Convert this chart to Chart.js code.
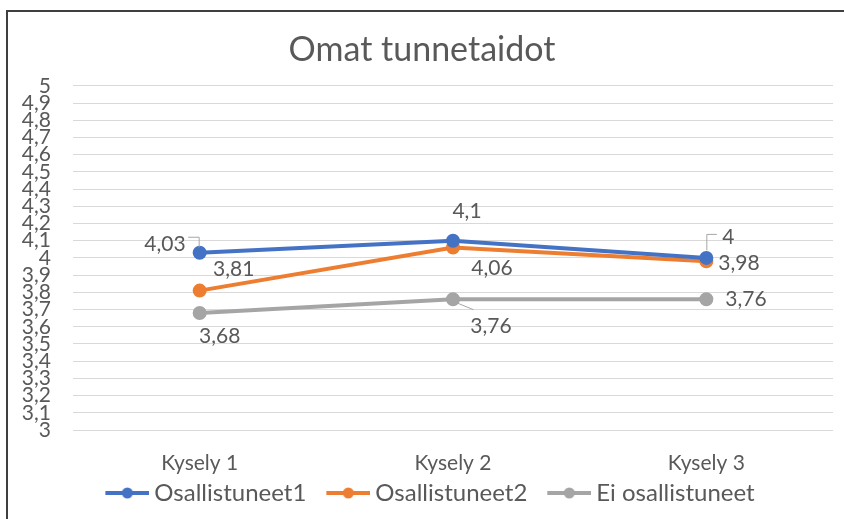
<!DOCTYPE html>
<html>
<head>
<meta charset="utf-8">
<script src="https://cdn.jsdelivr.net/npm/chart.js@4.4.1/dist/chart.umd.min.js"></script>
<style>
  html, body { margin: 0; padding: 0; background: #fff; }
  #wrap { width: 844px; height: 519px; position: relative; }
</style>
</head>
<body>
<div id="wrap"><canvas id="chart"></canvas></div>
<script>
// data
const categories = ['Kysely 1', 'Kysely 2', 'Kysely 3'];
const osallistuneet1 = [4.03, 4.1, 4.0];
const osallistuneet2 = [3.81, 4.06, 3.98];
const eiOsallistuneet = [3.68, 3.76, 3.76];
const seriesNames = ['Osallistuneet1', 'Osallistuneet2', 'Ei osallistuneet'];
const seriesColors = ['#4472C4', '#ED7D31', '#A5A5A5'];

const FONT = 'Lato, "Open Sans", sans-serif';
const TEXT = '#595959';

const fmt = v => String(Math.round(v * 100) / 100).replace('.', ',');

// where each data label sits relative to its point (offsets in px)
const labelPlacement = [
  [
    { dx: -14, dy: -9, align: 'right', leader: [[-12, -16], [-1, -16], [-1, -6]] },
    { dx: 14, dy: -29, align: 'center' },
    { dx: 16, dy: -21, align: 'left', leader: [[10, -24], [0, -24], [0, -8]] }
  ],
  [
    { dx: 34, dy: -21, align: 'center' },
    { dx: 39, dy: 21, align: 'center' },
    { dx: 12, dy: 2, align: 'left' }
  ],
  [
    { dx: 20, dy: 23, align: 'center' },
    { dx: 38, dy: 27, align: 'center', leader: [[3, 3], [20, 10]] },
    { dx: 19, dy: 0, align: 'left' }
  ]
];

// legend marker: line with a dot, drawn in the right part of a wider canvas
// so the items get more room between them
const MARK_W = 44, BOX_W = 53;
function legendMarker(color) {
  const c = document.createElement('canvas');
  c.width = BOX_W + 14; c.height = 12;
  const g = c.getContext('2d');
  const x0 = c.width - MARK_W;
  g.strokeStyle = color; g.lineWidth = 4;
  g.beginPath(); g.moveTo(x0, 6); g.lineTo(c.width, 6); g.stroke();
  g.fillStyle = color;
  g.beginPath(); g.arc(x0 + MARK_W / 2, 6, 5.5, 0, Math.PI * 2); g.fill();
  return c;
}

const frame = {
  id: 'frame',
  beforeDraw(chart) {
    const ctx = chart.ctx;
    ctx.save();
    ctx.strokeStyle = '#3f3f3f';
    ctx.lineWidth = 2;
    ctx.beginPath();
    ctx.moveTo(7, 519); ctx.lineTo(7, 11); ctx.lineTo(844, 11);
    ctx.stroke();
    ctx.restore();
  }
};

const dataLabels = {
  id: 'dataLabels',
  afterDatasetsDraw(chart) {
    const ctx = chart.ctx;
    ctx.save();
    ctx.font = '21px ' + FONT;
    ctx.textBaseline = 'middle';
    chart.data.datasets.forEach((ds, di) => {
      const meta = chart.getDatasetMeta(di);
      meta.data.forEach((pt, i) => {
        const p = labelPlacement[di][i];
        if (p.leader) {
          ctx.strokeStyle = '#a6a6a6';
          ctx.lineWidth = 1;
          ctx.beginPath();
          p.leader.forEach(([lx, ly], k) => {
            const X = pt.x + lx + 0.5, Y = pt.y + ly + 0.5;
            if (k === 0) ctx.moveTo(X, Y); else ctx.lineTo(X, Y);
          });
          ctx.stroke();
        }
        ctx.fillStyle = TEXT;
        ctx.textAlign = p.align;
        ctx.fillText(fmt(ds.data[i]), pt.x + p.dx, pt.y + p.dy);
      });
    });
    ctx.restore();
  }
};

const seriesData = [osallistuneet1, osallistuneet2, eiOsallistuneet];

new Chart(document.getElementById('chart'), {
  type: 'line',
  data: {
    labels: categories,
    datasets: seriesData.map((d, i) => ({
      label: seriesNames[i],
      data: d,
      borderColor: seriesColors[i],
      backgroundColor: seriesColors[i],
      pointBackgroundColor: seriesColors[i],
      pointBorderColor: seriesColors[i],
      borderWidth: 4,
      pointRadius: 5,
      tension: 0,
      fill: false
    }))
  },
  options: {
    responsive: true,
    maintainAspectRatio: false,
    animation: false,
    layout: { padding: { left: 11, right: 11, top: 0, bottom: 4 } },
    plugins: {
      tooltip: { enabled: false },
      title: {
        display: true,
        text: 'Omat tunnetaidot',
        color: TEXT,
        font: { family: FONT, size: 34, weight: 'normal' },
        padding: { top: 30, bottom: 15 }
      },
      legend: {
        position: 'bottom',
        labels: {
          color: TEXT,
          font: { family: FONT, size: 24 },
          usePointStyle: true,
          pointStyleWidth: BOX_W,
          padding: 4,
          generateLabels: chart => chart.data.datasets.map((ds, i) => ({
            text: ds.label,
            pointStyle: legendMarker(seriesColors[i]),
            fillStyle: seriesColors[i],
            strokeStyle: seriesColors[i],
            lineWidth: 0,
            fontColor: TEXT,
            datasetIndex: i
          }))
        }
      }
    },
    scales: {
      x: {
        offset: true,
        afterFit(scale) { scale.height = 47; },
        grid: { display: false, drawTicks: false },
        border: { display: false },
        ticks: { color: TEXT, font: { family: FONT, size: 21 }, padding: 21 }
      },
      y: {
        min: 3,
        max: 5,
        afterFit(scale) { scale.width = 62; },
        grid: { color: '#d9d9d9', lineWidth: 1, drawTicks: false },
        border: { display: false },
        ticks: {
          stepSize: 0.1,
          autoSkip: false,
          color: TEXT,
          font: { family: FONT, size: 21, lineHeight: 1 },
          padding: 22,
          callback: v => fmt(Math.round(v * 10) / 10)
        }
      }
    }
  },
  plugins: [frame, dataLabels]
});
</script>
</body>
</html>
